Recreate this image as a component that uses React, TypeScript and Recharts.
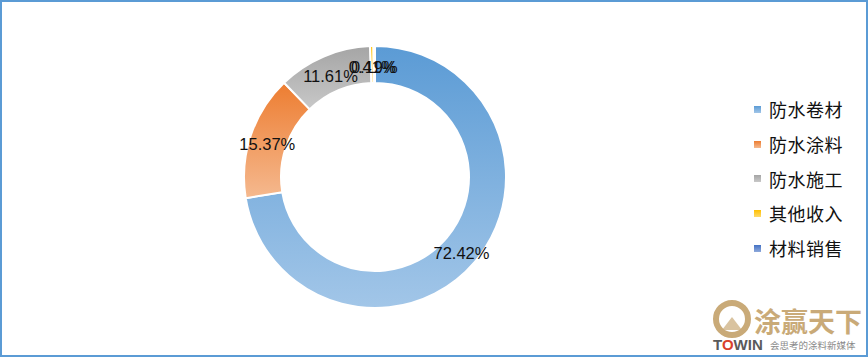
import React from "react";
import { Cell, Legend, Pie, PieChart } from "recharts";

const categories = ["防水卷材", "防水涂料", "防水施工", "其他收入", "材料销售"];
const shares = [72.42, 15.37, 11.61, 0.41, 0.19];

// [top, bottom] of each slice's vertical gradient
const GRADIENTS: [string, string][] = [
  ["#5B9BD5", "#A2C6E8"],
  ["#ED7D31", "#F5B98F"],
  ["#A5A5A5", "#C8C8C8"],
  ["#FFC000", "#FFDA6B"],
  ["#4472C4", "#8EA9DB"],
];

const data = categories.map((name, i) => ({ name, value: shares[i] }));

const RAD = Math.PI / 180;

const renderLabel = (props: any) => {
  const { cx, cy, midAngle, innerRadius, outerRadius, value } = props;
  const r = (innerRadius + outerRadius) / 2 + 1;
  const x = cx + r * Math.cos(-midAngle * RAD);
  const y = cy + r * Math.sin(-midAngle * RAD) + 3;
  return (
    <text
      x={x}
      y={y}
      textAnchor="middle"
      dominantBaseline="central"
      fill="#111"
      fontSize={16.5}
      fontFamily="'Liberation Sans', Arial, sans-serif"
    >
      {value.toFixed(2)}%
    </text>
  );
};

const LegendBox = () => (
  <div style={{ fontFamily: "'Noto Sans CJK SC', sans-serif", fontSize: 18, color: "#111" }}>
    {categories.map((c, i) => (
      <div key={c} style={{ display: "flex", alignItems: "center", height: 34.7 }}>
        <span
          style={{
            display: "inline-block",
            width: 7,
            height: 7,
            marginRight: 8,
            background: `linear-gradient(${GRADIENTS[i][0]}, ${GRADIENTS[i][1]})`,
          }}
        />
        <span style={{ letterSpacing: 0.5 }}>{c}</span>
      </div>
    ))}
  </div>
);

const Watermark = () => (
  <svg width={170} height={70} style={{ position: "absolute", left: 700, top: 290 }}>
    <circle cx={32} cy={29} r={16} fill="none" stroke="#C9AA78" strokeWidth={6} />
    <path d="M22 40 L32 27 L42 40 Z" fill="#C9AA78" opacity={0.7} />
    <text x={54} y={42} fontSize={27} fill="#C9AA78" fontFamily="'Noto Sans CJK SC', sans-serif" fontWeight={700}>
      涂赢天下
    </text>
    <text x={13} y={60} fontSize={15} fontWeight={700} fontFamily="'Liberation Sans', Arial, sans-serif" fill="#5a5a5a">
      T<tspan fill="#D9412B">O</tspan>WIN
    </text>
    <text x={70} y={59} fontSize={9.5} fill="#8a8a8a" fontFamily="'Noto Sans CJK SC', sans-serif">
      会思考的涂料新媒体
    </text>
  </svg>
);

export default function App() {
  return (
    <div style={{ position: "absolute", left: 0, top: 0, width: 868, height: 357, background: "#fff" }}>
      <PieChart
        width={868}
        height={357}
        margin={{ top: 0, right: 0, bottom: 0, left: 0 }}
        style={{ position: "absolute", left: 0, top: 0 }}
      >
        <defs>
          {GRADIENTS.map((g, i) => (
            <linearGradient key={i} id={`g${i}`} x1="0" y1="0" x2="0" y2="1">
              <stop offset="0%" stopColor={g[0]} />
              <stop offset="100%" stopColor={g[1]} />
            </linearGradient>
          ))}
        </defs>
        <Pie
          data={data}
          dataKey="value"
          nameKey="name"
          cx={375}
          cy={177}
          innerRadius={94}
          outerRadius={131}
          startAngle={90}
          endAngle={-270}
          stroke="#fff"
          strokeWidth={2}
          label={renderLabel}
          labelLine={false}
          isAnimationActive={false}
        >
          {data.map((_, i) => (
            <Cell key={i} fill={`url(#g${i})`} />
          ))}
        </Pie>
        <Legend
          layout="vertical"
          align="right"
          verticalAlign="top"
          wrapperStyle={{ left: 754, top: 92, width: 112 }}
          content={() => <LegendBox />}
        />
      </PieChart>
      <Watermark />
      <div
        style={{
          position: "absolute",
          left: 0,
          top: 0,
          width: 868,
          height: 357,
          boxSizing: "border-box",
          border: "2px solid #5B9BD5",
          pointerEvents: "none",
        }}
      />
    </div>
  );
}
